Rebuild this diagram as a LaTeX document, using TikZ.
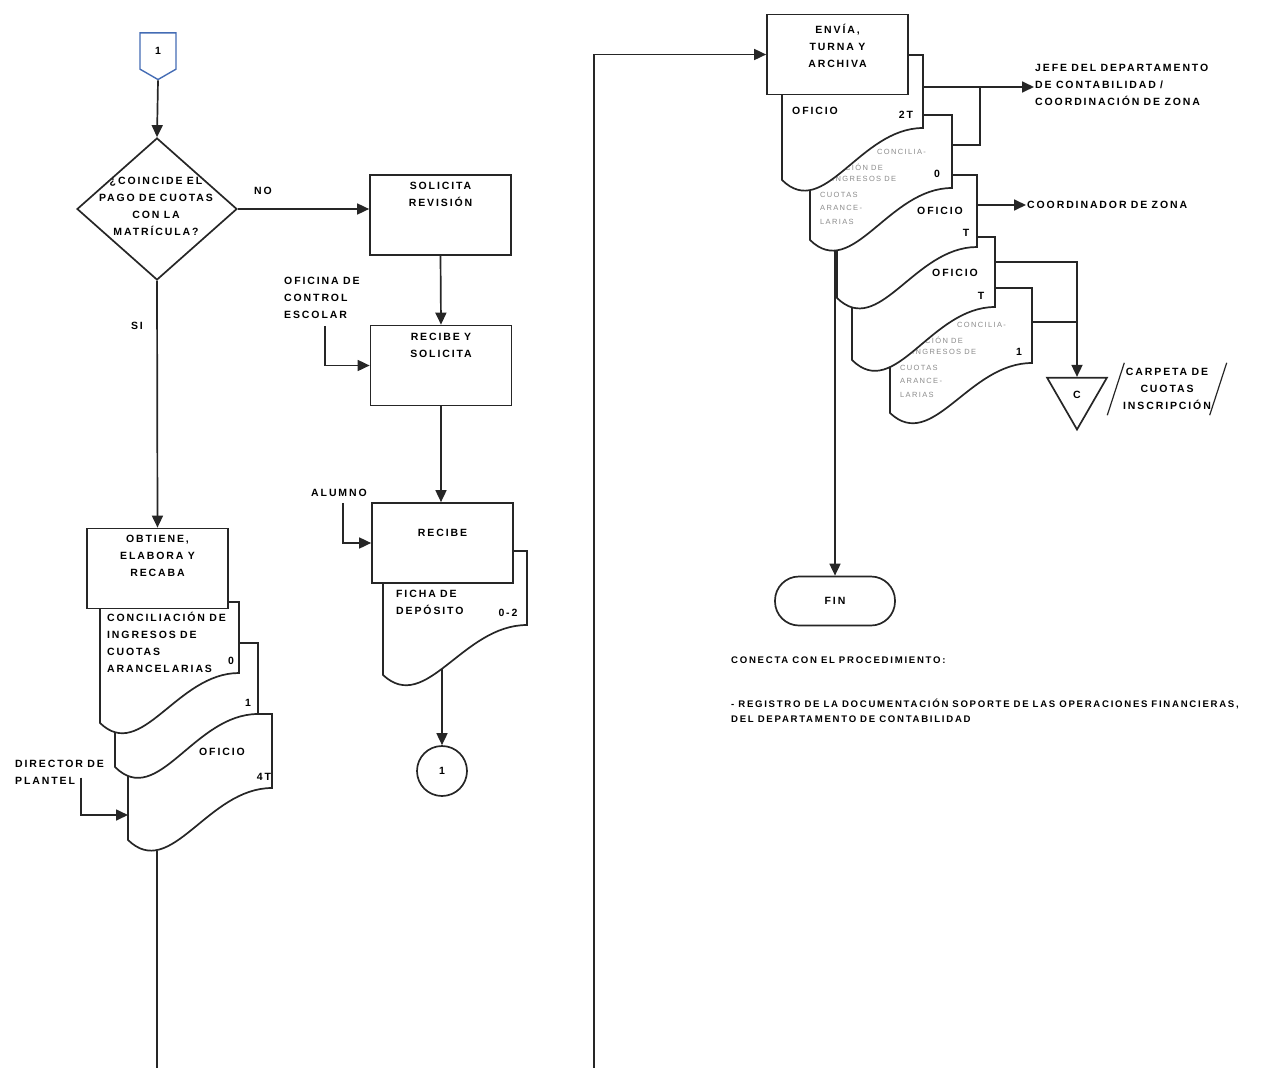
\documentclass[tikz,border=0pt]{standalone}
\usepackage{fontspec}
\setmainfont{Liberation Sans}
\newfontfamily\letra{Liberation Sans}[LetterSpace=18,WordSpace=0.9]
\usetikzlibrary{positioning,calc,arrows.meta,shapes.geometric,shapes.symbols}
\definecolor{azul}{RGB}{68,108,180}
\newcommand{\docu}[6]{%
  \path[hoja] (#2,#3) coordinate (#1-nw) -- ({#2+#4},#3) coordinate (#1-ne)
    -- ({#2+#4},#5) coordinate (#1-se)
    .. controls ({#2+0.55*#4},#5) and ({#2+0.3*#4},{#6+0.8*(#6-#5)}) .. (#2,#6)
    coordinate[pos=0.535] (#1-mid) coordinate[pos=0.8] (#1-dip) coordinate (#1-sw) -- cycle;
}
\begin{document}
\begin{tikzpicture}[x=1pt, y=-1pt,
    linea/.style={line width=1.7pt, draw=black!85},
    flecha/.style={linea, -{Triangle[length=12pt, width=11pt]}},
    caja/.style={linea, fill=white, minimum width=141, minimum height=80, inner sep=0},
    hoja/.style={linea, fill=white},
    texto/.style={font=\letra\bfseries\fontsize{10.5}{17}\selectfont, align=center, inner sep=1pt},
    textoi/.style={texto, align=left},
    nota/.style={font=\letra\bfseries\fontsize{9.6}{15}\selectfont, align=left, inner sep=0pt},
    gris/.style={font=\letra\fontsize{7.5}{10}\selectfont, text=black!45, inner sep=0pt}]
  \useasboundingbox (0,0) rectangle (1272,1068);

  % columna izquierda
  \node[texto, signal, signal to=south, signal pointer angle=120, draw=azul, line width=1.4pt,
    minimum width=36, minimum height=38, inner sep=0] (ini) at (158,51) {1};
  \node[diamond, linea, minimum width=160, minimum height=142, inner sep=0] (q1) at (157,209) {};
  \node[texto] (q1t) at (156,206) {¿COINCIDE EL\\PAGO DE CUOTAS\\CON LA\\MATRÍCULA?};
  \node[texto] (no) at (263,191) {NO};
  \node[texto] (si) at (137,326) {SI};

  \docu{l3}{128}{714}{144}{788}{840}
  \node[texto] (l3t) at (222,752) {OFICIO};
  \node[texto] (l3n) at (264,777) {4T};
  \docu{l2}{115}{643}{143}{714}{767}
  \node[texto] (l2n) at (248,703) {1};
  \docu{l1}{100}{602}{139}{673}{723}
  \node[textoi, anchor=north west] (l1t) at (106,611) {CONCILIACIÓN DE\\INGRESOS DE\\CUOTAS\\ARANCELARIAS};
  \node[texto] (l1n) at (231,661) {0};
  \node[caja] (obt) at (157.5,568.5) {};
  \node[texto, below=6pt of obt.north] (obtt) {OBTIENE,\\ELABORA Y\\RECABA};

  \node[textoi, anchor=north west] (dir) at (14,759) {DIRECTOR DE\\PLANTEL};
  \draw[flecha] (dir.south west) ++(67,-8) |- ($(l3-nw)+(0,101)$);
  \coordinate (finL) at (157,1068);
  \draw[linea] (finL |- l3-dip) -- (finL);

  \draw[flecha] (ini.south) -- (q1.north);
  \draw[flecha] (q1.south) -- (obt.north);

  % columna central
  \node[caja] (sol) at (440.5,215) {};
  \node[texto, below=7pt of sol.north] (solt) {SOLICITA\\REVISIÓN};
  \draw[flecha] (q1.east) -- (q1.east -| sol.west);
  \node[caja] (rys) at (441,365.5) {};
  \node[texto, below=7pt of rys.north] (ryst) {RECIBE Y\\SOLICITA};
  \node[textoi, anchor=north west] (ofi) at (283,276) {OFICINA DE\\CONTROL\\ESCOLAR};
  \draw[flecha] (ofi.south) ++(3,6) |- (rys.west);
  \draw[flecha] (sol.south) -- (rys.north);

  \docu{fi}{383}{551}{144}{625}{675}
  \node[textoi, anchor=north west] (fit) at (395,589) {FICHA DE\\DEPÓSITO};
  \node[texto] (fin2) at (508,613) {0-2};
  \node[caja] (rec) at (442.5,543) {};
  \node[texto, below=26pt of rec.north] (rect) {RECIBE};
  \node[texto] (alu) at (339,493) {ALUMNO};
  \draw[flecha] (alu.south) ++(4,5) |- (rec.west);
  \draw[flecha] (rys.south) -- (rys.south |- rec.north);
  \node[texto, circle, linea, minimum size=50, inner sep=0] (uno) at (442,771) {1};
  \draw[flecha] (uno |- fi-mid) -- (uno);

  % columna derecha
  \docu{dE}{890}{288}{142}{363}{413}
  \foreach \dx/\dy/\t [count=\i] in {67/37/CONCILIA-, 35/52/CIÓN DE, 22/64/INGRESOS DE, 10/80/CUOTAS, 10/93/ARANCE-, 10/107/LARIAS}
    \node[gris, anchor=west] (gE\i) at (890+\dx,288+\dy) {\t};
  \node[texto] (dEn) at (1019,352) {1};
  \docu{dD}{852}{237}{143}{307}{360}
  \node[texto] (dDt) at (955,273) {OFICIO};
  \node[texto] (dDn) at (981,296) {T};
  \docu{dC}{837}{175}{140}{247}{298}
  \node[texto] (dCt) at (940,211) {OFICIO};
  \node[texto] (dCn) at (966,233) {T};
  \docu{dB}{810}{115}{142}{188}{240}
  \foreach \dx/\dy/\t [count=\i] in {67/37/CONCILIA-, 35/52/CIÓN DE, 22/64/INGRESOS DE, 10/80/CUOTAS, 10/93/ARANCE-, 10/107/LARIAS}
    \node[gris, anchor=west] (gB\i) at (810+\dx,115+\dy) {\t};
  \node[texto] (dBn) at (937,174) {0};
  \docu{dA}{782}{55}{141}{128}{180}
  \node[textoi, anchor=west] (dAt) at (791,111) {OFICIO};
  \node[texto] (dAn) at (906,115) {2T};
  \node[caja] (env) at (837.5,54.5) {};
  \node[texto, below=9pt of env.north] (envt) {ENVÍA,\\TURNA Y\\ARCHIVA};
  \coordinate (finM) at (594,1068);
  \draw[flecha] (finM) |- (env.west);

  \node[textoi, anchor=west] (jefe) at (1034,85) {JEFE DEL DEPARTAMENTO\\DE CONTABILIDAD /\\COORDINACIÓN DE ZONA};
  \coordinate (unionJ) at (980,87);
  \draw[flecha] (dA-ne |- unionJ) -- (unionJ -| jefe.west);
  \draw[linea] (dB-ne) ++(0,30) -| (unionJ);
  \node[textoi, anchor=west] (coord) at (1026,205) {COORDINADOR DE ZONA};
  \draw[flecha] (dC-ne |- coord.west) -- (coord.west);

  \node[texto, regular polygon, regular polygon sides=3, shape border rotate=180, linea,
    minimum size=69, inner sep=0] (arch) at (1077,395) {C};
  \draw[flecha] (dD-ne) ++(0,25) -| (arch.north);
  \draw[linea] (dE-ne) ++(0,34) coordinate (eJ) -- (eJ -| arch.north);
  \node[texto, minimum width=102, minimum height=52, inner sep=0] (carp) at (1167,389) {CARPETA DE\\CUOTAS\\INSCRIPCIÓN};
  \draw[linea, line width=1.2pt] ([xshift=-8.5pt]carp.south west) -- ([xshift=8.5pt]carp.north west);
  \draw[linea, line width=1.2pt] ([xshift=-8.5pt]carp.south east) -- ([xshift=8.5pt]carp.north east);

  \node[texto, linea, rounded corners=24, minimum width=120, minimum height=49] (fin) at (835,601) {FIN};
  \draw[flecha] (fin |- dB-dip) -- (fin.north);

  \node[nota, anchor=west] (nota1) at (731,660) {CONECTA CON EL PROCEDIMIENTO:};
  \node[nota, anchor=north west] (nota2) at (731,699) {- REGISTRO DE LA DOCUMENTACIÓN SOPORTE DE LAS OPERACIONES FINANCIERAS,\\DEL DEPARTAMENTO DE CONTABILIDAD};
\end{tikzpicture}
\end{document}
